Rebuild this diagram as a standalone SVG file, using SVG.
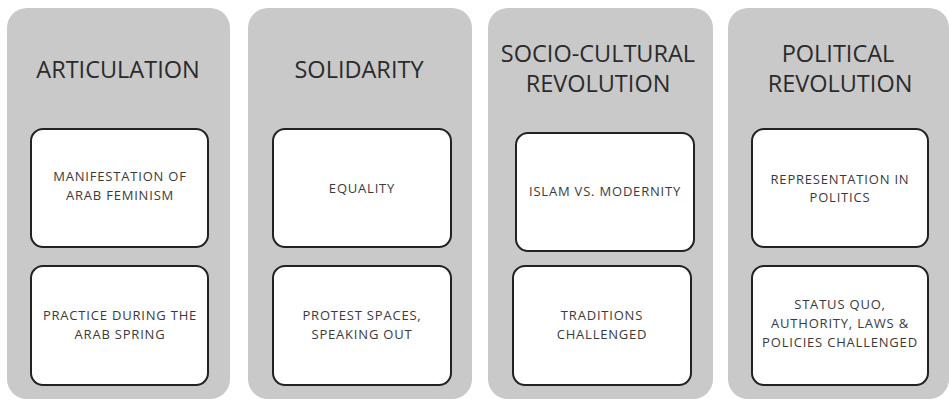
<svg xmlns="http://www.w3.org/2000/svg" width="949" height="400" viewBox="0 0 949 400">
<style>
.panel{fill:#c9c9c9;stroke:none}
.box{fill:#ffffff;stroke:#222222;stroke-width:2}
.title{font-family:"Open Sans","Liberation Sans",sans-serif;font-size:23.5px;fill:#2b2b2b;text-anchor:middle}
.lbl{font-family:"Open Sans","Liberation Sans",sans-serif;font-size:13px;letter-spacing:0.8px;fill:#3a3a3a;text-anchor:middle}
</style>
<rect width="949" height="400" fill="#ffffff"/>
<g id="articulation">
<rect class="panel" x="7" y="8" width="223" height="391" rx="20"/>
<text class="title" x="118" y="78">ARTICULATION</text>
<g id="manifestation"><rect class="box" x="31" y="129" width="177" height="118" rx="12"/>
<text class="lbl" x="120" y="181">MANIFESTATION OF</text><text class="lbl" x="120" y="200">ARAB FEMINISM</text></g>
<g id="practice"><rect class="box" x="31" y="266" width="177" height="119" rx="12"/>
<text class="lbl" x="120" y="320">PRACTICE DURING THE</text><text class="lbl" x="120" y="339">ARAB SPRING</text></g>
</g>
<g id="solidarity">
<rect class="panel" x="248" y="8" width="224" height="391" rx="20"/>
<text class="title" x="359" y="78">SOLIDARITY</text>
<g id="equality"><rect class="box" x="273" y="129" width="178" height="118" rx="12"/>
<text class="lbl" x="362" y="193">EQUALITY</text></g>
<g id="protest"><rect class="box" x="273" y="266" width="178" height="119" rx="12"/>
<text class="lbl" x="362" y="320">PROTEST SPACES,</text><text class="lbl" x="362" y="339">SPEAKING OUT</text></g>
</g>
<g id="sociocultural">
<rect class="panel" x="488" y="8" width="225" height="391" rx="20"/>
<text class="title" x="598" y="62">SOCIO-CULTURAL</text>
<text class="title" x="598" y="92">REVOLUTION</text>
<g id="islam"><rect class="box" x="516" y="133" width="178" height="118" rx="12"/>
<text class="lbl" x="605" y="196">ISLAM VS. MODERNITY</text></g>
<g id="traditions"><rect class="box" x="513" y="266" width="178" height="119" rx="12"/>
<text class="lbl" x="602" y="320">TRADITIONS</text><text class="lbl" x="602" y="339">CHALLENGED</text></g>
</g>
<g id="political">
<rect class="panel" x="728" y="8" width="221" height="391" rx="20"/>
<text class="title" x="838" y="62">POLITICAL</text>
<text class="title" x="840" y="92">REVOLUTION</text>
<g id="representation"><rect class="box" x="752" y="129" width="176" height="118" rx="12"/>
<text class="lbl" x="840" y="184">REPRESENTATION IN</text><text class="lbl" x="840" y="202">POLITICS</text></g>
<g id="statusquo"><rect class="box" x="752" y="266" width="176" height="119" rx="12"/>
<text class="lbl" x="840" y="309">STATUS QUO,</text><text class="lbl" x="840" y="328">AUTHORITY, LAWS &amp;</text><text class="lbl" x="840" y="347">POLICIES CHALLENGED</text></g>
</g>
<g id="connectors"/>
</svg>
